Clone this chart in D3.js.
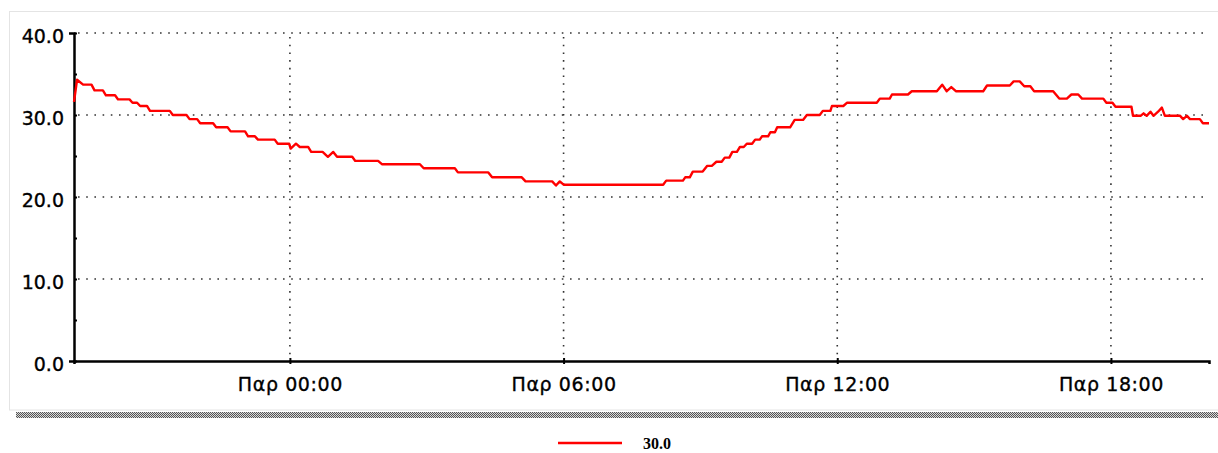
<!DOCTYPE html>
<html>
<head>
<meta charset="utf-8">
<script src="https://cdn.jsdelivr.net/npm/d3@7"></script>
<style>
  body { margin: 0; background: #fff; }
  .tick text { font-family: "DejaVu Sans", sans-serif; font-size: 19px; fill: #000; stroke: #000; stroke-width: 0.35px; }
</style>
</head>
<body>
<div id="chart"></div>
<script>
// readings (local time) and values
var times = [
  "2021-01-14 19:16","2021-01-14 19:20","2021-01-14 19:28","2021-01-14 19:39","2021-01-14 19:43",
  "2021-01-14 19:54","2021-01-14 19:58","2021-01-14 20:10","2021-01-14 20:14","2021-01-14 20:29",
  "2021-01-14 20:33","2021-01-14 20:39","2021-01-14 20:43","2021-01-14 20:52","2021-01-14 20:56",
  "2021-01-14 21:22","2021-01-14 21:26","2021-01-14 21:44","2021-01-14 21:48","2021-01-14 21:58",
  "2021-01-14 22:02","2021-01-14 22:19","2021-01-14 22:23","2021-01-14 22:38","2021-01-14 22:42",
  "2021-01-14 23:01","2021-01-14 23:05","2021-01-14 23:14","2021-01-14 23:18","2021-01-14 23:40",
  "2021-01-14 23:44","2021-01-14 23:59","2021-01-15 00:01","2021-01-15 00:08","2021-01-15 00:13",
  "2021-01-15 00:24","2021-01-15 00:28","2021-01-15 00:43","2021-01-15 00:50","2021-01-15 00:57",
  "2021-01-15 01:02","2021-01-15 01:22","2021-01-15 01:26","2021-01-15 01:56","2021-01-15 02:01",
  "2021-01-15 02:51","2021-01-15 02:56","2021-01-15 03:37","2021-01-15 03:41","2021-01-15 04:21",
  "2021-01-15 04:26","2021-01-15 05:05","2021-01-15 05:10","2021-01-15 05:45","2021-01-15 05:50",
  "2021-01-15 05:55","2021-01-15 06:00","2021-01-15 08:11","2021-01-15 08:15","2021-01-15 08:37",
  "2021-01-15 08:40","2021-01-15 08:46","2021-01-15 08:50","2021-01-15 09:03","2021-01-15 09:09",
  "2021-01-15 09:15","2021-01-15 09:21","2021-01-15 09:28","2021-01-15 09:32","2021-01-15 09:38",
  "2021-01-15 09:42","2021-01-15 09:48","2021-01-15 09:52","2021-01-15 09:57","2021-01-15 10:01",
  "2021-01-15 10:08","2021-01-15 10:12","2021-01-15 10:18","2021-01-15 10:21","2021-01-15 10:29",
  "2021-01-15 10:32","2021-01-15 10:38","2021-01-15 10:41","2021-01-15 10:58","2021-01-15 11:04",
  "2021-01-15 11:15","2021-01-15 11:20","2021-01-15 11:37","2021-01-15 11:41","2021-01-15 11:51",
  "2021-01-15 11:53","2021-01-15 12:08","2021-01-15 12:13","2021-01-15 12:52","2021-01-15 12:56",
  "2021-01-15 13:09","2021-01-15 13:12","2021-01-15 13:33","2021-01-15 13:38","2021-01-15 14:11",
  "2021-01-15 14:18","2021-01-15 14:24","2021-01-15 14:30","2021-01-15 14:36","2021-01-15 15:12",
  "2021-01-15 15:17","2021-01-15 15:47","2021-01-15 15:52","2021-01-15 16:00","2021-01-15 16:06",
  "2021-01-15 16:14","2021-01-15 16:19","2021-01-15 16:44","2021-01-15 16:52","2021-01-15 17:02",
  "2021-01-15 17:08","2021-01-15 17:17","2021-01-15 17:22","2021-01-15 17:50","2021-01-15 17:54",
  "2021-01-15 18:02","2021-01-15 18:06","2021-01-15 18:27","2021-01-15 18:29","2021-01-15 18:39",
  "2021-01-15 18:43","2021-01-15 18:47","2021-01-15 18:52","2021-01-15 18:56","2021-01-15 19:02",
  "2021-01-15 19:07","2021-01-15 19:11","2021-01-15 19:31","2021-01-15 19:35","2021-01-15 19:40",
  "2021-01-15 19:44","2021-01-15 19:57","2021-01-15 20:01","2021-01-15 20:09"
];
var values = [
  31.6,34.3,33.7,33.7,33.0,
  33.0,32.4,32.4,31.9,31.9,
  31.5,31.5,31.1,31.1,30.5,
  30.5,30.0,30.0,29.5,29.5,
  29.0,29.0,28.5,28.5,28.0,
  28.0,27.4,27.4,27.0,27.0,
  26.5,26.5,25.9,26.5,26.1,
  26.1,25.5,25.5,24.9,25.5,
  24.9,24.9,24.4,24.4,24.0,
  24.0,23.5,23.5,23.0,23.0,
  22.4,22.4,21.9,21.9,21.4,
  21.9,21.5,21.5,22.0,22.0,
  22.4,22.4,23.1,23.1,23.8,
  23.8,24.3,24.3,24.8,24.8,
  25.5,25.5,26.1,26.1,26.5,
  26.5,27.0,27.0,27.4,27.4,
  27.9,27.9,28.5,28.5,29.4,
  29.4,30.0,30.0,30.5,30.5,
  31.1,31.1,31.5,31.5,32.0,
  32.0,32.5,32.5,32.9,32.9,
  33.7,32.9,33.4,32.9,32.9,
  33.6,33.6,34.1,34.1,33.5,
  33.5,32.9,32.9,32.0,32.0,
  32.5,32.5,32.0,32.0,31.5,
  31.5,31.0,31.0,29.9,29.9,
  30.2,29.9,30.4,29.9,30.4,
  30.9,29.9,29.9,29.5,29.9,
  29.5,29.5,29.0,29.0
];
var yTicks = [0, 5, 10, 15, 20, 25, 30, 35, 40];
var yGrid = [10, 20, 30, 40];
var greekDays = ["Κυρ", "Δευ", "Τρι", "Τετ", "Πεμ", "Παρ", "Σαβ"];
var seriesName = "30.0";

var W = 1218, H = 453;
var margin = {top: 33, left: 74, right: 1209, bottom: 361};

var parse = d3.timeParse("%Y-%m-%d %H:%M");
var data = times.map(function(t, i) { return {t: parse(t), v: values[i]}; });

var x = d3.scaleTime()
    .domain(d3.extent(data, function(d) { return d.t; }))
    .range([margin.left, margin.right]);
var y = d3.scaleLinear()
    .domain([0, 40])
    .range([margin.bottom, margin.top]);

var svg = d3.select("#chart").append("svg")
    .attr("width", W)
    .attr("height", H);

// checker pattern for the panel shadow
var pat = svg.append("defs").append("pattern")
    .attr("id", "hatch")
    .attr("width", 2).attr("height", 2)
    .attr("patternUnits", "userSpaceOnUse");
pat.append("rect").attr("width", 2).attr("height", 2).attr("fill", "#d8d8d8");
pat.append("rect").attr("width", 1).attr("height", 1).attr("fill", "#555");
pat.append("rect").attr("x", 1).attr("y", 1).attr("width", 1).attr("height", 1).attr("fill", "#555");

svg.append("rect")
    .attr("x", 9.5).attr("y", 11.5)
    .attr("width", W).attr("height", 398.5)
    .attr("fill", "#fff")
    .attr("stroke", "#e4e4e4");
svg.append("rect")
    .attr("x", 16).attr("y", 412)
    .attr("width", W - 16).attr("height", 6)
    .attr("fill", "url(#hatch)");

var xTicks = d3.timeHour.every(6).range(x.domain()[0], x.domain()[1]);

// dotted grid
svg.append("g").selectAll("line")
    .data(yGrid)
  .enter().append("line")
    .attr("x1", margin.left + 4).attr("x2", margin.right)
    .attr("y1", function(d) { return y(d); })
    .attr("y2", function(d) { return y(d); })
    .attr("stroke", "#333")
    .attr("stroke-width", 1.6)
    .attr("stroke-dasharray", "1.6,6.6");
svg.append("g").selectAll("line")
    .data(xTicks)
  .enter().append("line")
    .attr("x1", function(d) { return x(d); })
    .attr("x2", function(d) { return x(d); })
    .attr("y1", margin.top + 4).attr("y2", margin.bottom)
    .attr("stroke", "#333")
    .attr("stroke-width", 1.6)
    .attr("stroke-dasharray", "1.6,6.1");

// x axis
var xAxis = svg.append("g")
    .attr("transform", "translate(0," + margin.bottom + ")")
    .call(d3.axisBottom(x)
      .tickValues(xTicks)
      .tickSizeOuter(0)
      .tickSize(3)
      .tickPadding(14)
      .tickFormat(function(d) {
        return greekDays[d.getDay()] + " " + d3.timeFormat("%H:%M")(d);
      }));
xAxis.select(".domain").attr("stroke", "#000").attr("stroke-width", 2.5);
xAxis.selectAll(".tick line").attr("y1", -3).attr("stroke-width", 2);
xAxis.selectAll(".tick text").style("letter-spacing", "0.6px");

// y axis
var yAxis = svg.append("g")
    .attr("transform", "translate(" + margin.left + ",0)")
    .call(d3.axisLeft(y)
      .tickValues(yTicks)
      .tickSizeOuter(0)
      .tickSize(5)
      .tickPadding(5)
      .tickFormat(function(d) { return d % 10 === 0 ? d3.format(".1f")(d) : ""; }));
yAxis.select(".domain").attr("stroke", "#000").attr("stroke-width", 2.5);
yAxis.selectAll(".tick line").attr("x2", 3).attr("stroke-width", 2);
yAxis.selectAll(".tick text").attr("dy", "0.5em");

// series
var line = d3.line()
    .x(function(d) { return x(d.t); })
    .y(function(d) { return y(d.v); });
svg.append("path")
    .datum(data)
    .attr("fill", "none")
    .attr("stroke", "#ff0000")
    .attr("stroke-width", 2.4)
    .attr("stroke-linejoin", "round")
    .attr("d", line);

// legend
svg.append("line")
    .attr("x1", 558).attr("x2", 622)
    .attr("y1", 443).attr("y2", 443)
    .attr("stroke", "#ff0000")
    .attr("stroke-width", 2.4);
svg.append("text")
    .attr("x", 643).attr("y", 449)
    .style("font-family", "'Liberation Serif', serif")
    .style("font-weight", "bold")
    .style("font-size", "16px")
    .text(seriesName);
</script>
</body>
</html>
